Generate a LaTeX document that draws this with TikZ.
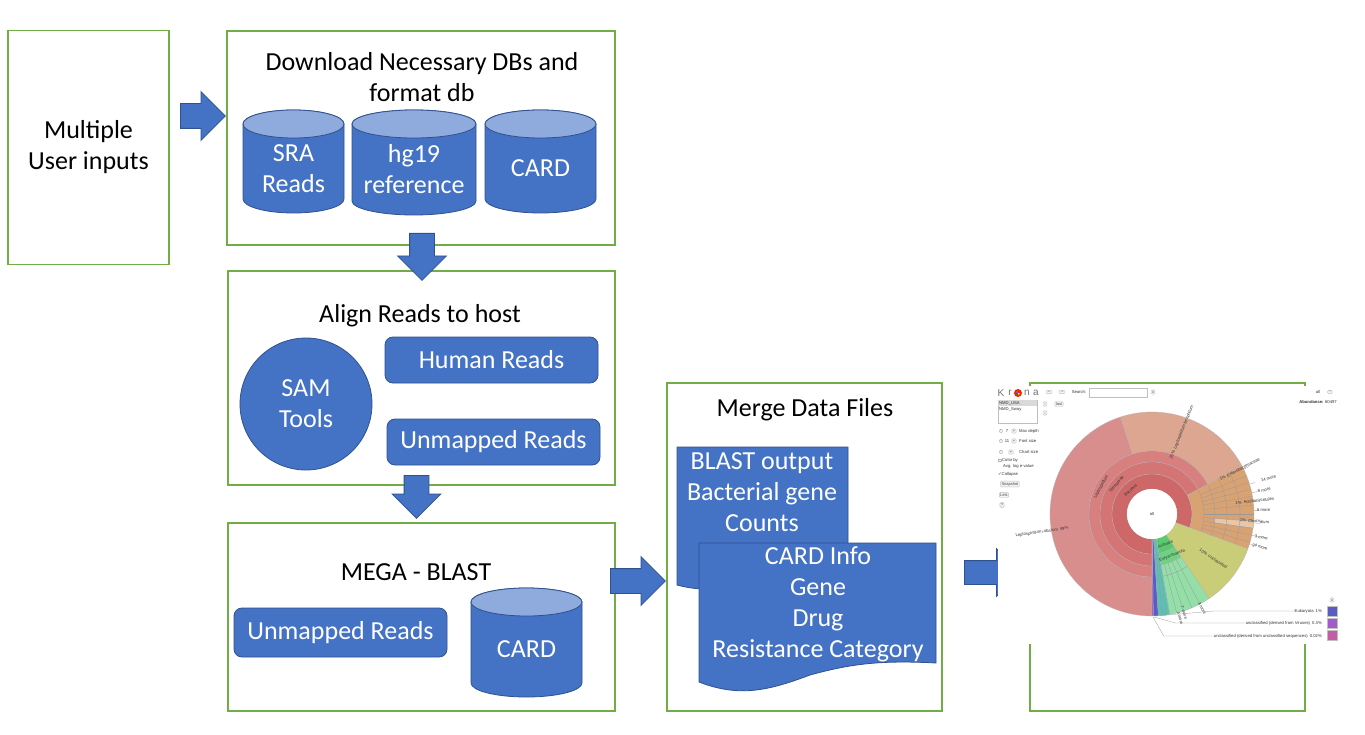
\documentclass[tikz,border=0pt]{standalone}
\usepackage{fontspec}
\setmainfont{Carlito}
\newfontfamily\kronafont{Liberation Sans}
\newfontfamily\kronasym{DejaVu Sans}
\usetikzlibrary{shapes.arrows}

\definecolor{stagegreen}{HTML}{70AD47}
\definecolor{dbblue}{HTML}{4472C4}
\definecolor{dbedge}{HTML}{2F528F}
\definecolor{dbtop}{HTML}{8FAADC}
\definecolor{krrub}{HTML}{D98E8E}
\definecolor{krfer}{HTML}{DCA690}
\definecolor{krred1}{HTML}{CE6868}
\definecolor{krred2}{HTML}{D47474}
\definecolor{krred3}{HTML}{D87F7F}
\definecolor{krbrown}{HTML}{D9A272}
\definecolor{krbrownlt}{HTML}{E8C6A6}
\definecolor{kryellow}{HTML}{C9CD78}
\definecolor{krgreen1}{HTML}{5DC96E}
\definecolor{krgreen2}{HTML}{70D183}
\definecolor{krgreen3}{HTML}{94DEA8}
\definecolor{krteal}{HTML}{5EBFB3}
\definecolor{krblue}{HTML}{5A5CC6}
\definecolor{krpurple}{HTML}{A35BCB}
\definecolor{krmagenta}{HTML}{C65CA8}

\tikzset{
  stagebox/.style={draw=stagegreen, line width=1.6pt, inner sep=0pt},
  stagetitle/.style={font=\fontsize{26}{31}\selectfont, align=center, text=black},
  readbox/.style={fill=dbblue, draw=dbedge, line width=0.8pt, rounded corners=8pt, text=white, font=\fontsize{26}{31}\selectfont, inner sep=0pt},
  dbtext/.style={text=white, font=\fontsize{26}{31}\selectfont, align=center},
  flowarrow/.style={single arrow, single arrow head extend=12pt, fill=dbblue, draw=dbedge, line width=0.8pt, inner xsep=0pt, inner ysep=12pt, anchor=tail},
  kline/.style={draw=black!40, line width=0.3pt},
  ktext/.style={font=\kronafont\fontsize{4.2}{5}\selectfont, text=black!80, inner sep=0pt},
  kbtn/.style={draw=black!25, fill=black!4, rounded corners=1pt, inner sep=1pt, font=\kronafont\fontsize{4}{5}\selectfont, text=black!75},
  klogo/.style={font=\kronafont\fontsize{10}{11}\selectfont, text=black!55, inner sep=0pt}
}

\newcommand{\dbcyl}[6]{% name, left, right, top, bottom, text
  \pgfmathsetmacro{\cylx}{(#2+#3)/2}
  \pgfmathsetmacro{\cylr}{(#3-#2)/2}
  \pgfmathsetmacro{\cylm}{(#4+14+#5)/2}
  \filldraw[fill=dbblue, draw=dbedge, line width=0.8pt] (#2,#4+14) -- (#2,#5-14)
    arc[start angle=180, end angle=360, x radius=\cylr*1pt, y radius=14pt] -- (#3,#4+14)
    arc[start angle=0, end angle=180, x radius=\cylr*1pt, y radius=14pt] -- cycle;
  \filldraw[fill=dbtop, draw=dbedge, line width=0.8pt] (\cylx,#4+14) ellipse[x radius=\cylr*1pt, y radius=14pt];
  \node[dbtext] (#1) at (\cylx,\cylm) {#6};
}
\newcommand{\kwedge}[5]{% from, to, inner, outer, colour
  \filldraw[fill=#5, draw=black!30, line width=0.25pt] (#1:#3pt) arc[start angle=#1, end angle=#2, radius=#3pt]
    -- (#2:#4pt) arc[start angle=#2, end angle=#1, radius=#4pt] -- cycle;
}

\begin{document}
\begin{tikzpicture}[x=1pt, y=-1pt]
\fill[white] (0,0) rectangle (1365,735);
\useasboundingbox (0,0) rectangle (1365,735);

% inputs
\node[stagebox, stagetitle, minimum width=161pt, minimum height=234pt] (inputs) at (88.5,147.5) {Multiple\\User inputs};

% download stage
\node[stagebox, minimum width=388pt, minimum height=214pt] (dbstage) at (421,138) {};
\node[stagetitle] (dbtitle) at (422,77) {Download Necessary DBs and\\format db};
\dbcyl{sra}{243}{344}{110}{213}{SRA\\Reads}
\dbcyl{hg19}{352}{476}{110}{215}{hg19\\reference}
\dbcyl{carddb}{485}{596}{110}{213}{CARD}

% align stage
\node[stagebox, minimum width=387pt, minimum height=214pt] (alignstage) at (421.5,378) {};
\node[stagetitle] (aligntitle) at (420,316) {Align Reads to host};
\node[circle, fill=dbblue, draw=dbedge, line width=0.8pt, minimum size=132pt, dbtext] (samtools) at (306,404) {SAM\\Tools};
\node[readbox, minimum width=213pt, minimum height=46pt] (human) at (491.5,360) {Human Reads};
\node[readbox, minimum width=213pt, minimum height=46pt] (unmapped) at (493.5,442) {Unmapped Reads};

% blast stage
\node[stagebox, minimum width=387pt, minimum height=188pt] (megastage) at (421.5,617) {};
\node[stagetitle] (megatitle) at (416,572) {MEGA - BLAST};
\node[readbox, minimum width=213pt, minimum height=49pt] (megareads) at (340.5,632.5) {Unmapped Reads};
\dbcyl{megacard}{471}{582}{588}{697}{CARD}

% merge stage
\node[stagebox, minimum width=275pt, minimum height=328pt] (mergestage) at (804.5,547) {};
\node[stagetitle] (mergetitle) at (805,410) {Merge Data Files};
\filldraw[fill=dbblue, draw=dbedge, line width=0.8pt] (677,447) -- (848,447) -- (848,575)
  .. controls (790,562) and (740,602) .. (677,585) -- cycle;
\node[dbtext] (blastdoc) at (762,492) {BLAST output\\Bacterial gene\\Counts};
\filldraw[fill=dbblue, draw=dbedge, line width=0.8pt] (699,543) -- (936,543) -- (936,663)
  .. controls (880,660) and (850,664) .. (810,675) .. controls (770,690) and (740,698) .. (699,682) -- cycle;
\node[dbtext] (carddoc) at (818,604.5) {CARD Info\\Gene\\Drug\\Resistance Category};

% krona stage
\node[stagebox, minimum width=275pt, minimum height=328pt] (kronastage) at (1167.5,547) {};

% block arrows
\node[flowarrow, minimum height=45pt, minimum width=48pt] (arr1) at (180,116) {};
\node[flowarrow, rotate=-90, minimum height=47pt, minimum width=48pt] (arr2) at (422,233) {};
\node[flowarrow, rotate=-90, minimum height=43pt, minimum width=47pt] (arr3) at (416.5,475) {};
\node[flowarrow, minimum height=55pt, minimum width=48pt] (arr4) at (610,581) {};
\node[flowarrow, inner ysep=11.5pt, minimum height=56pt, minimum width=46pt] (arr5) at (964,572.5) {};

% krona screenshot
\fill[white] (998,386) rectangle (1338,644);
\foreach \ch/\px in {K/1001, r/1010, n/1027, a/1036}
  \node[klogo] at (\px,393) {\ch};
\fill[red!75!orange] (1018,393) circle[radius=4pt];
\fill[blue!60] (1018,393) -- ++(90:2pt) arc[start angle=90, end angle=180, radius=2pt] -- cycle;
\fill[green!60!black] (1018,393) -- ++(180:2pt) arc[start angle=180, end angle=270, radius=2pt] -- cycle;
\fill[yellow!80!orange] (1018,393) -- ++(270:2pt) arc[start angle=270, end angle=360, radius=2pt] -- cycle;
\node[kbtn] (kback) at (1049,392) {←};
\node[kbtn] (kfwd) at (1062,392) {→};
\node[ktext] (ksearch) at (1079,392) {Search:};
\draw[black!25, line width=0.3pt] (1089,388) rectangle (1147,397);
\node[kbtn] (kclear) at (1153,392) {x};
\draw[black!25, line width=0.3pt] (998,400) rectangle (1037,423);
\fill[black!15] (998.3,400.3) rectangle (1036.7,406);
\node[ktext, anchor=west] (kds1) at (999,403) {NMD\_USA};
\node[ktext, anchor=west] (kds2) at (999,409) {NMD\_Sway};
\node[kbtn] (kup) at (1045,404) {↑};
\node[kbtn] (klast) at (1059,404) {last};
\node[kbtn] (kdown) at (1045,413) {↓};
\node[kbtn] (kd1) at (1001,431) {-};
\node[ktext] (kd2) at (1007,431) {7};
\node[kbtn] (kd3) at (1014,431) {+};
\node[ktext, anchor=west] (kd4) at (1019,431) {Max depth};
\node[kbtn] (kf1) at (1001,441) {-};
\node[ktext] (kf2) at (1007,441) {11};
\node[kbtn] (kf3) at (1014,441) {+};
\node[ktext, anchor=west] (kf4) at (1019,441) {Font size};
\node[kbtn] (kc1) at (1001,452) {-};
\node[kbtn] (kc2) at (1011,452) {+};
\node[ktext, anchor=west] (kc3) at (1019,452) {Chart size};
\draw[black!30, line width=0.3pt] (998.5,459) rectangle (1001,461.5);
\node[ktext, anchor=west] (kcol1) at (1002,460) {Color by};
\node[ktext, anchor=west] (kcol2) at (1003,466) {Avg. log e-value};
\node[ktext, anchor=west] (kcoll) at (998,474) {{\kronasym ✓}Collapse};
\node[kbtn] (ksnap) at (1010,484) {Snapshot};
\node[kbtn] (klink) at (1004,495) {Link};
\node[kbtn] (khelp) at (1002,505) {?};
\node[ktext] (kall) at (1318,392) {all};
\node[kbtn] (kmenu) at (1330,392) {--};
\node[ktext, anchor=east] (kabund) at (1337,402) {\textbf{Abundance:} 60497};

% krona chart
\begin{scope}[shift={(1152,514)}]
  \kwedge{108}{270}{63}{102}{krrub}
  \kwedge{28}{108}{63}{102}{krfer}
  \kwedge{28}{270}{52}{63}{krred3}
  \kwedge{28}{270}{40}{52}{krred2}
  \kwedge{-20}{270}{25}{40}{krred1}
  \kwedge{-20}{28}{40}{102}{krbrown}
  \kwedge{-8}{-4}{63}{102}{krbrownlt}
  \kwedge{-56}{-20}{25}{102}{kryellow}
  \kwedge{-80}{-56}{25}{40}{krgreen1}
  \kwedge{-80}{-56}{40}{52}{krgreen2}
  \kwedge{-80}{-56}{52}{102}{krgreen3}
  \kwedge{-86.5}{-80}{25}{102}{krteal}
  \kwedge{-89.3}{-86.5}{25}{102}{krblue}
  \kwedge{-90}{-89.3}{25}{102}{krpurple}
  \foreach \a in {22,18,14,10,5,0,-4,-8,-12,-16}
    \draw[kline] (\a:52pt) -- (\a:102pt);
  \foreach \r in {52,63,75,88}
    \draw[kline] (-20:\r pt) arc[start angle=-20, end angle=28, radius=\r pt];
  \foreach \a in {-76,-72,-67,-62}
    \draw[kline] (\a:52pt) -- (\a:102pt);
  \foreach \a in {-84,-82}
    \draw[kline] (\a:40pt) -- (\a:102pt);
  \draw[kline] (-80:63pt) arc[start angle=-80, end angle=-56, radius=63pt];
  \foreach \a in {26,17,12,7,2,-5,-12,-17}
    \draw[kline] (\a:102pt) -- (\a:108pt);
  \fill[white] (0,0) circle[radius=25pt];
  \node[ktext] (kroot) at (0,0) {all};
  \node[ktext, rotate=42] (kbact) at (132:32pt) {Bacteria};
  \node[ktext, rotate=50] (knitro) at (140:46pt) {Nitrospirae};
  \node[ktext, rotate=62] (klepto) at (152:57.5pt) {Leptospirillum};
  \node[ktext, rotate=68] (kferr) at (70:87pt) {25\%\enspace Leptospirillum ferriphilum};
  \node[ktext, rotate=24] (karch) at (-66:33pt) {Archaea};
  \node[ktext, rotate=22] (keury) at (-64:46pt) {Euryarchaeota};
  \node[ktext, rotate=-34] (kuncl) at (-36:76pt) {10\%\enspace unclassified};
  \node[ktext, anchor=west, rotate=27] (kent) at (27:76pt) {1\%\enspace Enterobacteriaceae};
  \node[ktext, anchor=west, rotate=17] at (17:114pt) {14 more};
  \node[ktext, anchor=west, rotate=12] at (12:108pt) {8 more};
  \node[ktext, anchor=west, rotate=7] (kact) at (7:84pt) {1\%\enspace Actinomycetales};
  \node[ktext, anchor=west, rotate=2] at (2:105pt) {6 more};
  \node[ktext, anchor=west, rotate=-4] (kclos) at (-4:88pt) {1\%\enspace Clostridium};
  \node[ktext, anchor=west, rotate=-12] at (-12:105pt) {3 more};
  \node[ktext, anchor=west, rotate=-17] at (-17:105pt) {24 more};
  \node[ktext, anchor=west, rotate=-62] at (-62:100pt) {3 more};
  \node[ktext, anchor=west, rotate=-72] at (-72:97pt) {7 more};
  \node[ktext, anchor=west, rotate=-74] at (-75:101pt) {4 more};
\end{scope}
\node[ktext, rotate=8] (krubar) at (1042,532) {Leptospirillum rubarum\enspace 49\%};

% krona legend
\node[kbtn] (kkey) at (1332,600) {x};
\node[ktext, anchor=east] (keuk) at (1322,611) {Eukaryota\enspace 1\%};
\node[ktext, anchor=east] (kvir) at (1322,623) {unclassified (derived from Viruses)\enspace 0.3\%};
\node[ktext, anchor=east] (kseq) at (1322,636) {unclassified (derived from unclassified sequences)\enspace 0.02\%};
\filldraw[fill=krblue, draw=black!25, line width=0.3pt] (1327,606) rectangle (1337,616);
\filldraw[fill=krpurple, draw=black!25, line width=0.3pt] (1327,618) rectangle (1337,628);
\filldraw[fill=krmagenta, draw=black!25, line width=0.3pt] (1327,630) rectangle (1337,640);
\draw[kline] (keuk.west) -- ++(-80,0) -- (1156,616);
\draw[kline] (kvir.west) -- ++(-70,0) -- (1154,617);
\draw[kline] (kseq.west) -- ++(-50,0) -- (1153,617);
\end{tikzpicture}
\end{document}
